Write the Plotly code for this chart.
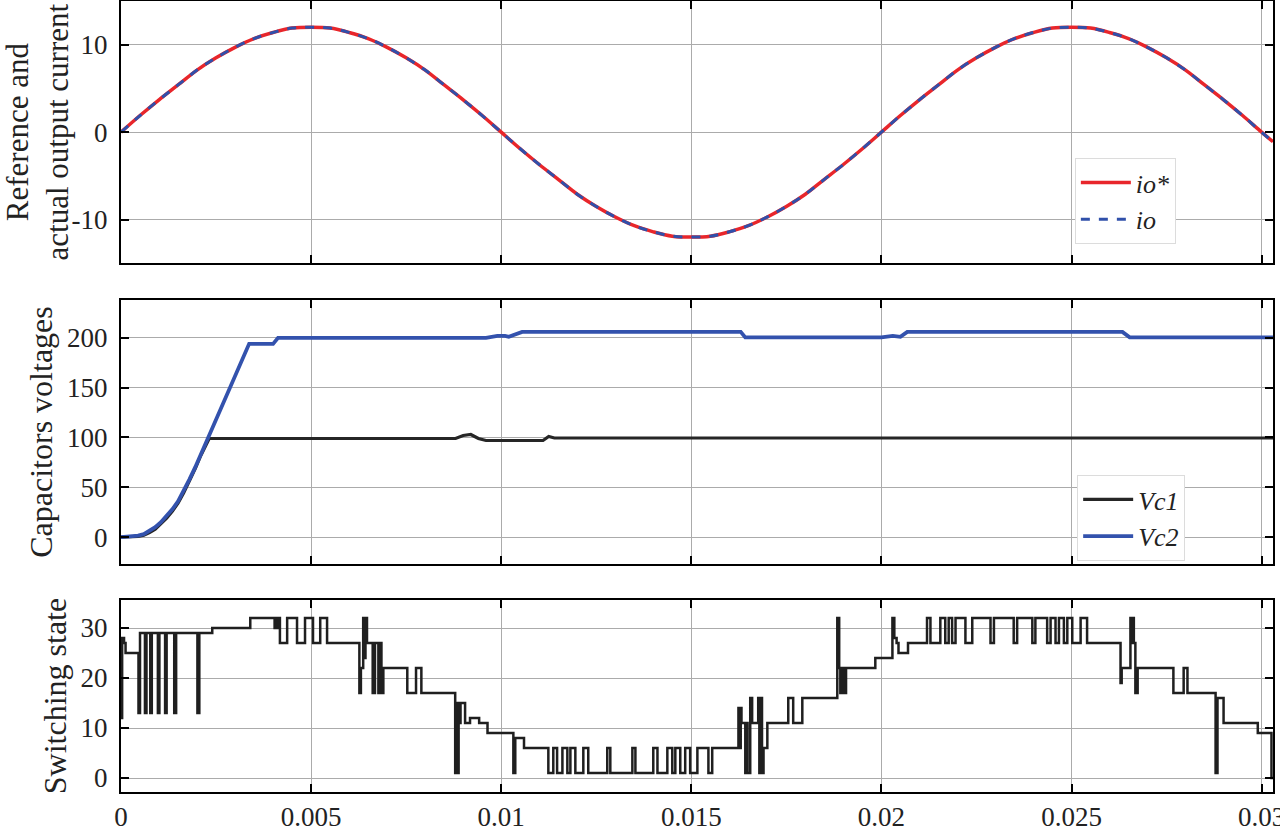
import plotly.graph_objects as go

# ---------------- data ----------------
t_io = [0, 0.0005, 0.001, 0.0015, 0.002, 0.0025, 0.003, 0.0035, 0.004, 0.0045,
        0.005, 0.0055, 0.006, 0.0065, 0.007, 0.0075, 0.008, 0.0085, 0.009, 0.0095,
        0.01, 0.0105, 0.011, 0.0115, 0.012, 0.0125, 0.013, 0.0135, 0.014, 0.0145,
        0.015, 0.0155, 0.016, 0.0165, 0.017, 0.0175, 0.018, 0.0185, 0.019, 0.0195,
        0.02, 0.0205, 0.021, 0.0215, 0.022, 0.0225, 0.023, 0.0235, 0.024, 0.0245,
        0.025, 0.0255, 0.026, 0.0265, 0.027, 0.0275, 0.028, 0.0285, 0.029, 0.0295,
        0.03, 0.0303]
io_ref = [0, 1.9, 3.7, 5.4, 7.1, 8.5, 9.7, 10.7, 11.4, 11.9,
          12.0, 11.9, 11.4, 10.7, 9.7, 8.5, 7.1, 5.4, 3.7, 1.9,
          0, -1.9, -3.7, -5.4, -7.1, -8.5, -9.7, -10.7, -11.4, -11.9,
          -12.0, -11.9, -11.4, -10.7, -9.7, -8.5, -7.1, -5.4, -3.7, -1.9,
          0, 1.9, 3.7, 5.4, 7.1, 8.5, 9.7, 10.7, 11.4, 11.9,
          12.0, 11.9, 11.4, 10.7, 9.7, 8.5, 7.1, 5.4, 3.7, 1.9,
          0, -1.1]
io_act = [0, 1.9, 3.7, 5.4, 7.1, 8.5, 9.7, 10.7, 11.4, 11.9,
          12.0, 11.9, 11.4, 10.7, 9.7, 8.5, 7.1, 5.4, 3.7, 1.9,
          0, -1.9, -3.7, -5.4, -7.1, -8.5, -9.7, -10.7, -11.4, -11.9,
          -12.0, -11.9, -11.4, -10.7, -9.7, -8.5, -7.1, -5.4, -3.7, -1.9,
          0, 1.9, 3.7, 5.4, 7.1, 8.5, 9.7, 10.7, 11.4, 11.9,
          12.0, 11.9, 11.4, 10.7, 9.7, 8.5, 7.1, 5.4, 3.7, 1.9,
          0, -1.1]

t_vc1 = [0, 0.0003, 0.00045, 0.0006, 0.00075, 0.0009, 0.00105, 0.0012, 0.00135,
         0.0015, 0.00165, 0.0018, 0.00195, 0.0021, 0.00232,
         0.0088, 0.0090, 0.0092, 0.0094, 0.0096, 0.0111, 0.01125, 0.0114, 0.0303]
vc1 = [0, 0, 0.8, 2, 4.5, 8, 13, 19, 26,
       34, 44.5, 56, 68.5, 82, 99,
       99, 102, 103, 99, 97, 97, 101, 99.5, 99.5]

t_vc2 = [0, 0.0003, 0.00045, 0.0006, 0.00075, 0.0009, 0.00105, 0.0012, 0.00135,
         0.0015, 0.00165, 0.0018, 0.00195, 0.0021, 0.0024,
         0.0027, 0.0030, 0.0033, 0.00337, 0.0040, 0.00413, 0.0096, 0.0099,
         0.0101, 0.0102, 0.01055, 0.0163, 0.01642, 0.0200, 0.0203, 0.0205,
         0.02068, 0.02634, 0.02653, 0.0303]
vc2 = [0, 0.5, 1.5, 3, 6, 10, 15, 21, 28,
       36, 46.5, 58, 70, 83, 110,
       136, 162, 188, 194, 194, 200, 200, 202,
       202, 201, 206, 206, 200.5, 200.5, 202, 201,
       206, 206, 200.5, 200.5]

t_sw = [0, 0.00003, 0.00008, 0.00012, 0.00046, 0.0005, 0.00063, 0.00067, 0.00077, 0.00081,
        0.00097, 0.00101, 0.00116, 0.0012, 0.0014, 0.00145, 0.00201, 0.00206, 0.0024, 0.0034,
        0.00404, 0.00407, 0.0041, 0.00413, 0.00418, 0.00437, 0.00463, 0.00484, 0.00505, 0.00524,
        0.00542, 0.00627, 0.00631, 0.00637, 0.0064, 0.00643, 0.00647, 0.00662, 0.00668, 0.00677,
        0.00681, 0.00685, 0.0069, 0.00753, 0.00776, 0.0079, 0.00879, 0.00882, 0.00884, 0.00888,
        0.0089, 0.00893, 0.00905, 0.00918, 0.00942, 0.00964, 0.01032, 0.01037, 0.0106, 0.01124,
        0.01137, 0.01147, 0.01161, 0.01174, 0.01182, 0.01195, 0.01216, 0.01229, 0.01279, 0.01287,
        0.01345, 0.01353, 0.014, 0.01411, 0.01437, 0.0145, 0.01458, 0.01471, 0.01484, 0.01497,
        0.01516, 0.01545, 0.01555, 0.01624, 0.01627, 0.0163, 0.01632, 0.01642, 0.01646, 0.01648,
        0.01655, 0.0166, 0.01676, 0.01679, 0.01683, 0.01686, 0.0169, 0.017, 0.01755, 0.01768,
        0.01792, 0.01884, 0.01889, 0.01892, 0.01897, 0.01902, 0.01907, 0.01984, 0.02029, 0.02034,
        0.0204, 0.02045, 0.0207, 0.0212, 0.02129, 0.02155, 0.02168, 0.02177, 0.02186, 0.02195,
        0.02221, 0.02239, 0.02287, 0.02296, 0.02348, 0.02357, 0.02397, 0.02405, 0.02436, 0.02445,
        0.02458, 0.02467, 0.0248, 0.02489, 0.02502, 0.02524, 0.02541, 0.02629, 0.02632, 0.02655,
        0.02659, 0.02661, 0.02664, 0.02668, 0.02674, 0.02768, 0.02795, 0.02805, 0.02879, 0.02884,
        0.029, 0.0299, 0.03026, 0.0303]
sw = [12, 28, 27, 25, 13, 29, 13, 29, 13, 29,
      13, 29, 13, 29, 13, 29, 13, 29, 30, 32,
      30, 32, 30, 32, 27, 32, 27, 32, 27, 32,
      27, 17, 22, 32, 24, 32, 27, 17, 27, 17,
      27, 17, 22, 17, 22, 17, 1, 15, 1, 15,
      11, 15, 11, 12, 11, 9, 1, 8, 6, 1,
      6, 1, 6, 1, 6, 1, 6, 1, 6, 1,
      6, 1, 6, 1, 6, 1, 6, 1, 6, 1,
      6, 1, 6, 14, 6, 14, 11, 1, 11, 1,
      16, 11, 16, 1, 16, 1, 6, 11, 16, 11,
      16, 32, 22, 17, 22, 17, 22, 24, 32, 28,
      27, 25, 27, 32, 27, 32, 27, 32, 27, 32,
      27, 32, 27, 32, 27, 32, 27, 32, 27, 32,
      27, 32, 27, 32, 27, 32, 27, 19, 22, 32,
      27, 32, 27, 17, 22, 17, 22, 17, 1, 16,
      11, 9, 0, 0]

x_ticks = [0, 0.005, 0.01, 0.015, 0.02, 0.025, 0.03]
x_labels = ["0", "0.005", "0.01", "0.015", "0.02", "0.025", "0.03"]
y1_ticks = [-10, 0, 10]
y1_labels = ["-10", "0", "10"]
y2_ticks = [0, 50, 100, 150, 200]
y2_labels = ["0", "50", "100", "150", "200"]
y3_ticks = [0, 10, 20, 30]
y3_labels = ["0", "10", "20", "30"]

# ---------------- style ----------------
FONT = "Liberation Serif, Times New Roman, serif"
RED = "#e8262b"
BLUE = "#3050aa"
BLACK = "#1f1f1f"

fig = go.Figure()
fig.add_trace(go.Scatter(x=t_io, y=io_ref, name="<i>io*</i>", mode="lines",
                         line=dict(color=RED, width=3.5, shape="spline"),
                         xaxis="x", yaxis="y", legend="legend"))
fig.add_trace(go.Scatter(x=t_io, y=io_act, name="<i>io</i>", mode="lines",
                         line=dict(color=BLUE, width=3, dash="dash", shape="spline"),
                         xaxis="x", yaxis="y", legend="legend"))
fig.add_trace(go.Scatter(x=t_vc1, y=vc1, name="<i>Vc1</i>", mode="lines",
                         line=dict(color="#262626", width=3.2),
                         xaxis="x2", yaxis="y2", legend="legend2"))
fig.add_trace(go.Scatter(x=t_vc2, y=vc2, name="<i>Vc2</i>", mode="lines",
                         line=dict(color="#3352ad", width=3.8),
                         xaxis="x2", yaxis="y2", legend="legend2"))
fig.add_trace(go.Scatter(x=t_sw, y=sw, name="Switching state", mode="lines",
                         line=dict(color=BLACK, width=2.5, shape="hv"),
                         xaxis="x3", yaxis="y3", showlegend=False))

axis_common = dict(showline=True, linecolor="black", linewidth=2, mirror="ticks",
                   ticks="inside", ticklen=8, tickwidth=1.5, tickcolor="black",
                   showgrid=True, gridcolor="#ababab", gridwidth=1, zeroline=False,
                   automargin=False,
                   tickfont=dict(family=FONT, size=27, color="#222"))


def xax(anchor, labels):
    d = dict(axis_common)
    d.update(domain=[0, 1], anchor=anchor, range=[0, 0.0303],
             tickmode="array", tickvals=x_ticks, ticktext=x_labels,
             showticklabels=labels, ticklabelstandoff=0,
             ticklabeloverflow="allow")
    return d


def yax(anchor, dom, rng, vals, labs, title, size, standoff):
    d = dict(axis_common)
    d.update(domain=dom, anchor=anchor, range=rng, tickmode="array",
             tickvals=vals, ticktext=labs, ticklabelstandoff=6,
             title=dict(text=title, font=dict(family=FONT, size=size, color="#222"),
                        standoff=standoff))
    return d


legend_style = dict(bgcolor="white", bordercolor="#dcdcdc", borderwidth=1,
                    font=dict(family=FONT, size=26, color="#222"),
                    xanchor="left", yanchor="top", tracegroupgap=0, itemwidth=50)

fig.update_layout(
    width=1280, height=833,
    margin=dict(l=121, r=7, t=1, b=41, pad=0),
    paper_bgcolor="white", plot_bgcolor="white",
    showlegend=True,
    xaxis=xax("y", False),
    xaxis2=xax("y2", False),
    xaxis3=xax("y3", True),
    yaxis=yax("x", [0.6684, 1.0], [-15, 15], y1_ticks, y1_labels,
              "Reference and<br>actual output current", 31, 7),
    yaxis2=yax("x2", [0.2882, 0.6220], [-27, 238], y2_ticks, y2_labels,
               "Capacitors voltages", 32, 5),
    yaxis3=yax("x3", [0.0, 0.2427], [-2.8, 35.6], y3_ticks, y3_labels,
               "Switching state", 32, 4),
    legend=dict(legend_style, x=0.828, y=0.8015),
    legend2=dict(legend_style, x=0.83, y=0.4008),
)

fig.write_html("out.html", config={"displayModeBar": False},
               post_script="document.body.style.margin='0';")
